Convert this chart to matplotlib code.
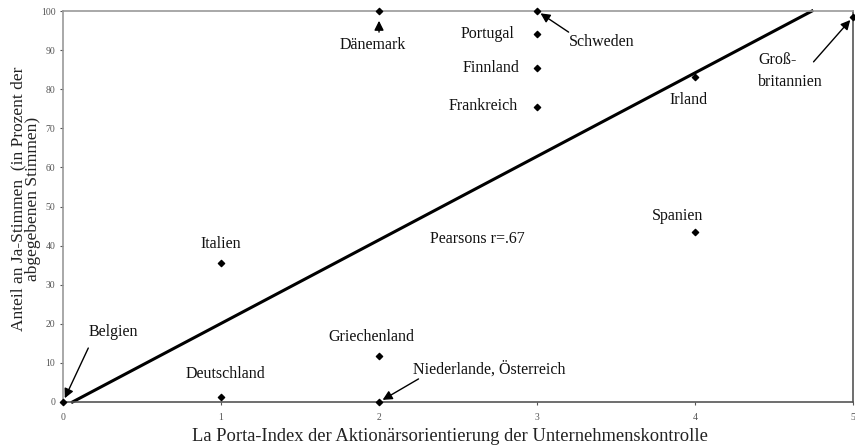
import matplotlib.pyplot as plt

plt.rcParams['font.family'] = ['Liberation Serif', 'DejaVu Serif']

# Länder, La-Porta-Index, Ja-Stimmen in %
countries = ["Belgien", "Deutschland", "Italien", "Griechenland", "Niederlande, Österreich",
             "Dänemark", "Schweden", "Portugal", "Finnland", "Frankreich",
             "Irland", "Spanien", "Groß-\nbritannien"]
index_vals = [0, 1, 1, 2, 2, 2, 3, 3, 3, 3, 4, 4, 5]
yes_share = [0, 1.2, 35.5, 11.7, 0, 100, 100, 94, 85.5, 75.5, 83, 43.5, 98.5]

reg_x = [0.06, 4.74]
reg_y = [0, 100]

x_ticks = [0, 1, 2, 3, 4, 5]
y_ticks = [0, 10, 20, 30, 40, 50, 60, 70, 80, 90, 100]

fig = plt.figure(figsize=(8.55, 4.48), dpi=100)
ax = fig.add_axes([0.0737, 0.1027, 0.924, 0.8727])

ax.plot(reg_x, reg_y, color="black", lw=2.2, clip_on=False, zorder=2)
ax.scatter(index_vals, yes_share, marker="D", s=10, color="black", clip_on=False, zorder=3)

ax.set_xlim(0, 5)
ax.set_ylim(0, 100)
ax.set_xticks(x_ticks)
ax.set_yticks(y_ticks)
ax.tick_params(axis="both", labelsize=7, colors="#555555", length=2, width=0.8)
ax.tick_params(axis="x", pad=6)

for side in ["top", "left"]:
    ax.spines[side].set_color("#999999")
    ax.spines[side].set_linewidth(1.2)
for side in ["bottom", "right"]:
    ax.spines[side].set_color("#555555")
    ax.spines[side].set_linewidth(1.2)

ax.set_xlabel("La Porta-Index der Aktionärsorientierung der Unternehmenskontrolle",
              fontsize=13.3, color="#222222")
ax.xaxis.set_label_coords(0.49, -0.067)
ax.set_ylabel("Anteil an Ja-Stimmen  (in Prozent der\nabgegebenen Stimmen)",
              fontsize=12.5, color="#222222", linespacing=0.9)
ax.yaxis.set_label_coords(-0.028, 0.52)

lbl = dict(fontsize=11.5, color="#111111")

# Beschriftungen
ax.text(1, 40.3, "Italien", ha="center", va="center", **lbl)
ax.text(1.03, 7.2, "Deutschland", ha="center", va="center", **lbl)
ax.text(1.95, 16.6, "Griechenland", ha="center", va="center", **lbl)
ax.text(2.86, 94, "Portugal", ha="right", va="center", **lbl)
ax.text(2.89, 85.5, "Finnland", ha="right", va="center", **lbl)
ax.text(2.88, 75.6, "Frankreich", ha="right", va="center", **lbl)
ax.text(3.96, 77.2, "Irland", ha="center", va="center", **lbl)
ax.text(3.89, 47.6, "Spanien", ha="center", va="center", **lbl)
ax.text(2.32, 41.8, "Pearsons r=.67", ha="left", va="center", **lbl)
ax.text(0.16, 17.9, "Belgien", ha="left", va="center", **lbl)
ax.text(2.215, 8.2, "Niederlande, Österreich", ha="left", va="center", **lbl)
ax.text(1.96, 91.4, "Dänemark", ha="center", va="center", **lbl)
ax.text(3.2, 92, "Schweden", ha="left", va="center", **lbl)
ax.text(4.4, 84.7, countries[12], ha="left", va="center", linespacing=1.45, **lbl)

# Pfeile
arr = dict(arrowstyle="-|>", color="black", lw=1, mutation_scale=14, shrinkA=0, shrinkB=3)
ax.annotate("", xy=(index_vals[0], yes_share[0]), xytext=(0.16, 13.8), arrowprops=arr)
ax.annotate("", xy=(index_vals[4], yes_share[4]), xytext=(2.25, 5.9), arrowprops=arr)
ax.annotate("", xy=(index_vals[5], 97.5), xytext=(2, 94.6), arrowprops=dict(arr, shrinkB=0))
ax.annotate("", xy=(index_vals[6], yes_share[6]), xytext=(3.2, 94.6), arrowprops=arr)
ax.annotate("", xy=(index_vals[12], yes_share[12]), xytext=(4.75, 87), arrowprops=arr)

fig.savefig("out.png", dpi=100)
